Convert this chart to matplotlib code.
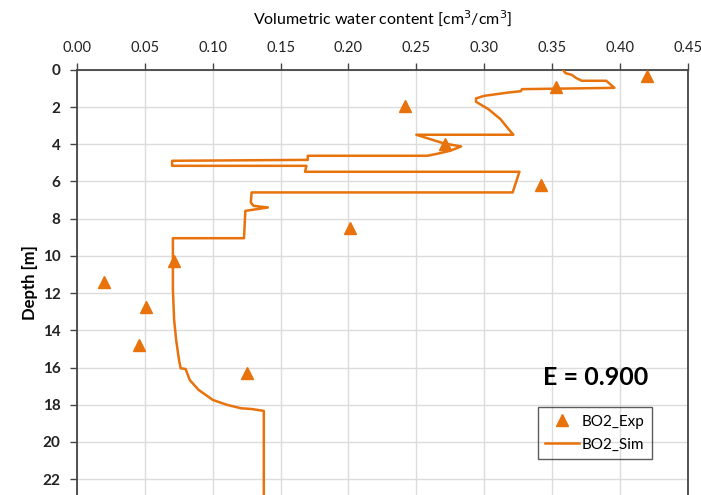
import numpy as np
import matplotlib
matplotlib.use("Agg")
import matplotlib.pyplot as plt

# measured (experimental) points
exp_theta = [0.420, 0.353, 0.242, 0.271, 0.342, 0.201, 0.0712, 0.0195, 0.0508, 0.0457, 0.1253]
exp_depth = [0.35, 0.90, 1.95, 4.00, 6.20, 8.52, 10.30, 11.38, 12.76, 14.78, 16.30]

# simulated profile
sim_theta = [0.358, 0.360, 0.3645, 0.368, 0.372, 0.390, 0.396, 0.328, 0.327, 0.318,
             0.300, 0.294, 0.294, 0.303, 0.312, 0.318, 0.3215, 0.250, 0.270, 0.283,
             0.275, 0.265, 0.258, 0.170, 0.170, 0.070, 0.070, 0.169, 0.168, 0.326,
             0.321, 0.1286, 0.128, 0.130, 0.1406, 0.124, 0.123, 0.0706, 0.0706, 0.0715,
             0.073, 0.0751, 0.0763, 0.080, 0.083, 0.0895, 0.100, 0.1106, 0.121, 0.1286,
             0.1376, 0.1376]
sim_depth = [0.00, 0.18, 0.27, 0.45, 0.59, 0.59, 0.97, 1.04, 1.15, 1.22,
             1.40, 1.54, 1.72, 2.11, 2.65, 3.19, 3.49, 3.49, 3.95, 4.12,
             4.35, 4.52, 4.62, 4.62, 4.84, 4.89, 5.16, 5.16, 5.48, 5.48,
             6.59, 6.59, 7.13, 7.31, 7.40, 7.58, 9.05, 9.05, 11.83, 13.44,
             14.52, 15.59, 16.04, 16.08, 16.67, 17.20, 17.74, 18.01, 18.19, 18.23,
             18.33, 23.0]

x_ticks = np.arange(0, 0.451, 0.05)
y_ticks = np.arange(0, 23, 2)

orange = "#E8720C"
plt.rcParams["font.family"] = ["Lato", "DejaVu Sans"]

fig = plt.figure(figsize=(7.01, 4.95), dpi=100)
ax = fig.add_axes([0.110, 0.0, 0.871, 0.859])

ax.plot(sim_theta, sim_depth, color=orange, lw=1.8, label="BO2_Sim", zorder=3)
ax.plot(exp_theta, exp_depth, ls="none", marker="^", ms=9, color=orange,
        label="BO2_Exp", zorder=4)

ax.set_xlim(0, 0.45)
ax.set_ylim(22.85, 0)
ax.set_xticks(x_ticks)
ax.set_xticklabels([f"{v:.2f}" for v in x_ticks], fontsize=10.5, color="#222222")
ax.set_yticks(y_ticks)
ax.set_yticklabels([str(v) for v in y_ticks], fontsize=11, fontweight="bold",
                   color="#222222")
ax.xaxis.tick_top()
ax.xaxis.set_label_position("top")
ax.tick_params(axis="x", direction="out", length=5, width=1, color="#444444", pad=6)
ax.tick_params(axis="y", direction="out", length=5, width=1, color="#444444", pad=7)

ax.grid(True, color="#dcdcdc", lw=1)
ax.set_axisbelow(True)
for side in ["top", "left", "right"]:
    ax.spines[side].set_color("#444444")
    ax.spines[side].set_linewidth(1.3)
ax.spines["bottom"].set_visible(False)

ax.set_xlabel("Volumetric water content [cm$^3$/cm$^3$]", fontsize=11.5, labelpad=12)
ax.set_ylabel("Depth [m]", fontsize=12, fontweight="bold", labelpad=3)

ax.text(0.421, 16.55, "E = 0.900", fontsize=18, fontweight="bold", ha="right",
        va="center", color="black")

handles, labels = ax.get_legend_handles_labels()
leg = ax.legend(handles[::-1], labels[::-1], loc="upper left",
                bbox_to_anchor=(0.7545, 0.207), borderaxespad=0, fontsize=11,
                frameon=True, fancybox=False, edgecolor="#333333", facecolor="none",
                handlelength=2.2, handletextpad=0.2, borderpad=0.5,
                labelspacing=0.6)
leg.get_frame().set_linewidth(1.0)

fig.savefig("out.png", dpi=100)
